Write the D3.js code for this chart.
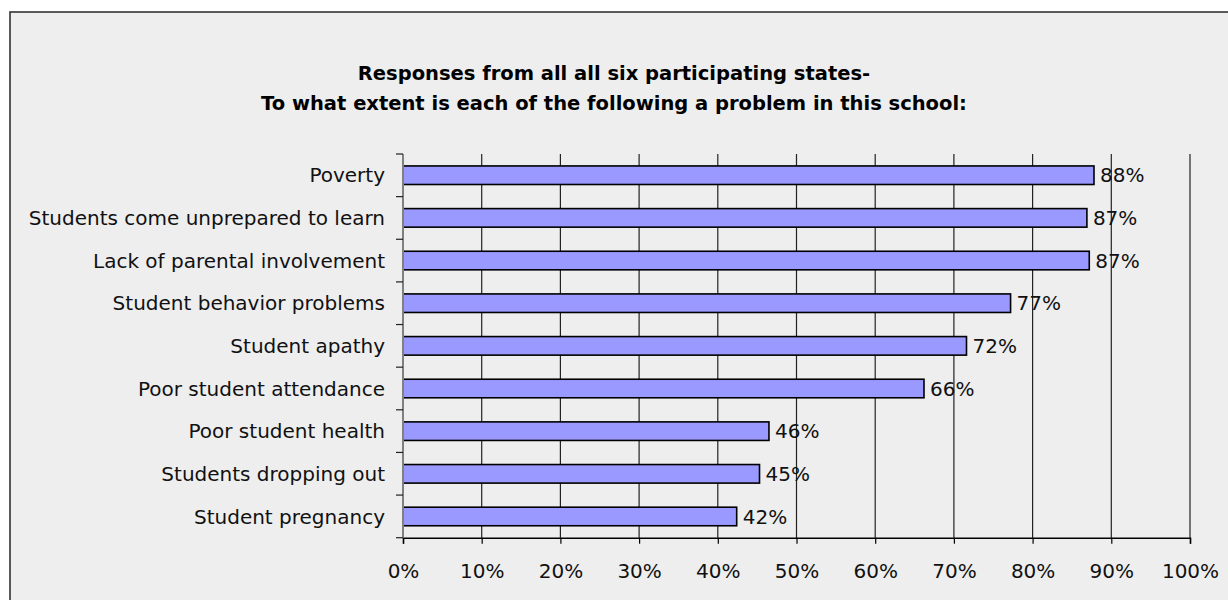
<!DOCTYPE html>
<html><head><meta charset="utf-8">
<script src="https://cdn.jsdelivr.net/npm/d3@7/dist/d3.min.js"></script>
<style>
html,body{margin:0;padding:0;background:#fff;}
svg{display:block;}
</style></head>
<body>
<svg id="chart" width="1228" height="600"></svg>
<script>
const categories = ["Poverty","Students come unprepared to learn","Lack of parental involvement","Student behavior problems","Student apathy","Poor student attendance","Poor student health","Students dropping out","Student pregnancy"];
const values = [87.8, 86.9, 87.2, 77.2, 71.6, 66.2, 46.5, 45.3, 42.4];
const valueLabels = ["88%","87%","87%","77%","72%","66%","46%","45%","42%"];
const xTicks = [0,10,20,30,40,50,60,70,80,90,100];
const titleLines = ["Responses from all all six participating states-","To what extent is each of the following a problem in this school:"];

(function(){
const svg = d3.select("#chart");
// frame
svg.append("rect").attr("x",10).attr("y",12).attr("width",1240).attr("height",620)
  .attr("fill","#eeeeee").attr("stroke","#333").attr("stroke-width",1.6);

const pLeft=403, pRight=1190, pTop=154, pBottom=537.7;
const x = d3.scaleLinear().domain([0,100]).range([pLeft,pRight]);
const y = d3.scaleBand().domain(categories).range([pTop,pBottom]).paddingInner(0.565).paddingOuter(0.28);

// title
svg.append("g").selectAll("text").data(titleLines).join("text")
  .attr("x",614).attr("y",(d,i)=>80+i*30).attr("text-anchor","middle")
  .attr("font-family","DejaVu Sans, sans-serif").attr("font-weight","bold")
  .attr("font-size",19.5).attr("fill","#000").text(d=>d);

// gridlines
svg.append("g").selectAll("line").data(xTicks.slice(1)).join("line")
  .attr("x1",d=>x(d)).attr("x2",d=>x(d)).attr("y1",pTop).attr("y2",pBottom)
  .attr("stroke","#222").attr("stroke-width",1.2);

// x axis
const xAxis = d3.axisBottom(x).tickValues(xTicks).tickFormat(d=>d+"%").tickSize(6).tickPadding(20);
const gx = svg.append("g").attr("transform",`translate(0,${pBottom})`).call(xAxis);
gx.select(".domain").attr("stroke","#000").attr("stroke-width",1.5);
gx.selectAll(".tick line").attr("stroke","#000").attr("stroke-width",1.2);
gx.selectAll("text").attr("font-family","DejaVu Sans, sans-serif").attr("font-size",20).attr("fill","#111");

// bars
svg.append("g").selectAll("rect").data(categories).join("rect")
  .attr("x",x(0)).attr("y",d=>y(d)).attr("height",y.bandwidth())
  .attr("width",(d,i)=>x(values[i])-x(0))
  .attr("fill","#9999ff").attr("stroke","#000").attr("stroke-width",1.6);

// y axis (band boundary ticks)
const boundaries = d3.range(categories.length+1).map(i=>pTop+i*(pBottom-pTop)/categories.length);
const gy = svg.append("g");
gy.append("line").attr("x1",pLeft).attr("x2",pLeft).attr("y1",pTop).attr("y2",pBottom)
  .attr("stroke","#808080").attr("stroke-width",2);
gy.selectAll("line.t").data(boundaries).join("line").attr("class","t")
  .attr("x1",pLeft-7).attr("x2",pLeft).attr("y1",d=>d).attr("y2",d=>d)
  .attr("stroke","#222").attr("stroke-width",1.2);
gy.selectAll("text").data(categories).join("text")
  .attr("x",385).attr("y",d=>y(d)+y.bandwidth()/2).attr("dy","0.36em")
  .attr("text-anchor","end").attr("font-family","DejaVu Sans, sans-serif")
  .attr("font-size",20).attr("fill","#111").text(d=>d);

// value labels
svg.append("g").selectAll("text").data(categories).join("text")
  .attr("x",(d,i)=>x(values[i])+6).attr("y",d=>y(d)+y.bandwidth()/2).attr("dy","0.36em")
  .attr("font-family","DejaVu Sans, sans-serif").attr("font-size",20).attr("fill","#111")
  .text((d,i)=>valueLabels[i]);
})();
</script>
</body></html>
